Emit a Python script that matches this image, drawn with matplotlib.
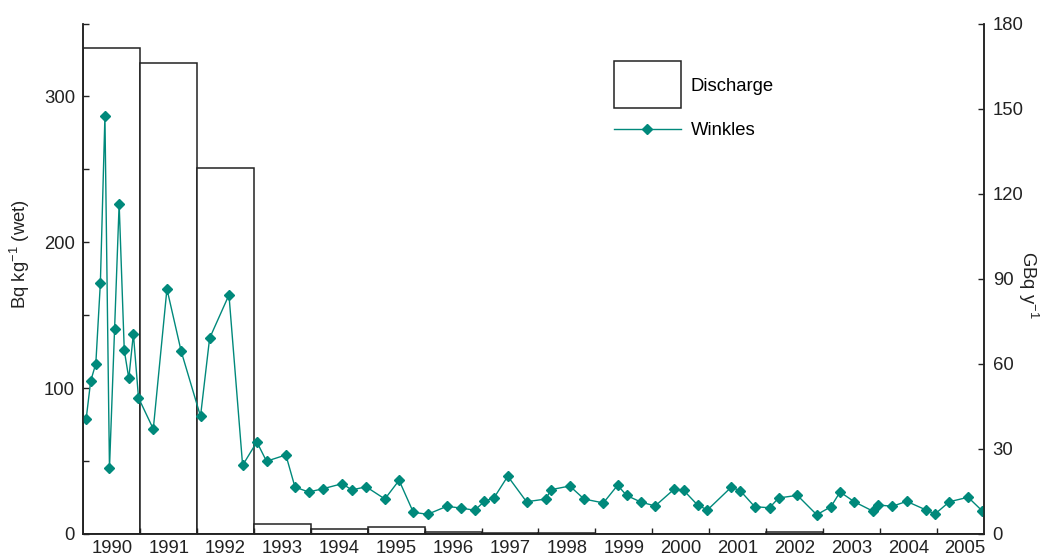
import matplotlib
matplotlib.use("Agg")
import matplotlib.pyplot as plt
from matplotlib.ticker import MultipleLocator, FixedLocator
from matplotlib.patches import Rectangle
from matplotlib.legend_handler import HandlerPatch

plt.rcParams['font.family'] = ['Liberation Sans', 'DejaVu Sans']
plt.rcParams['mathtext.fontset'] = 'custom'
plt.rcParams['mathtext.rm'] = 'Liberation Sans'
plt.rcParams['mathtext.default'] = 'regular'

# ---- data ----
years = list(range(1990, 2006))
discharge = [171.3, 166.2, 128.9, 3.6, 1.8, 2.4, 0.8, 0.5, 0.4, 0, 0, 0, 0.6, 0, 0, 0]  # GBq/y

winkle_dates = [1990.05, 1990.13, 1990.22, 1990.30, 1990.38, 1990.46, 1990.55, 1990.63,
                1990.72, 1990.80, 1990.88, 1990.97,
                1991.23, 1991.47, 1991.72,
                1992.06, 1992.22, 1992.56, 1992.80,
                1993.05, 1993.22, 1993.56, 1993.72, 1993.96,
                1994.22, 1994.55, 1994.72, 1994.97,
                1995.30, 1995.55, 1995.80,
                1996.05, 1996.39, 1996.63, 1996.88,
                1997.05, 1997.22, 1997.46, 1997.79,
                1998.13, 1998.22, 1998.55, 1998.80,
                1999.14, 1999.39, 1999.55, 1999.80,
                2000.05, 2000.38, 2000.55, 2000.80, 2000.97,
                2001.39, 2001.55, 2001.80,
                2002.06, 2002.22, 2002.55, 2002.89,
                2003.14, 2003.30, 2003.55, 2003.88, 2003.97,
                2004.22, 2004.47, 2004.81, 2004.97,
                2005.22, 2005.55, 2005.80]
winkle_values = [78.8, 104.9, 116.8, 172.1, 286.4, 45.0, 140.8, 226.4,
                 125.9, 106.7, 137.3, 93.4,
                 72.0, 168.0, 125.3,
                 80.7, 134.2, 163.9, 47.1,
                 63.1, 49.9, 54.2, 32.2, 28.8,
                 31.1, 34.5, 30.2, 32.4,
                 24.0, 36.8, 14.9,
                 13.5, 19.0, 17.8, 16.3,
                 22.4, 24.9, 39.6, 22.1,
                 24.0, 30.4, 32.9, 24.0,
                 21.3, 33.4, 26.4, 21.9,
                 19.2, 30.6, 30.0, 19.7, 16.5,
                 32.2, 29.5, 18.7,
                 18.0, 24.7, 26.5, 13.2,
                 18.7, 28.8, 22.1, 15.6, 19.9,
                 19.0, 22.4, 16.5, 13.7,
                 22.1, 25.2, 15.8]

teal = '#00897B'
dark = '#222222'
fs = 13.3

fig = plt.figure(figsize=(10.42, 5.57), dpi=100)
ax = fig.add_axes([83.3/1042, 1-534/557, 901/1042, 510.5/557])
ax2 = ax.twinx()

# bars on the right axis (behind)
bars = ax2.bar(years, discharge, width=1.0, align='edge', color='white',
               edgecolor=dark, linewidth=1.1, label='Discharge')
ax2.set_ylim(0, 180)
ax2.yaxis.set_major_locator(MultipleLocator(30))

# line on the left axis (front)
ax.set_zorder(ax2.get_zorder() + 1)
ax.patch.set_visible(False)
line, = ax.plot(winkle_dates, winkle_values, color=teal, lw=1.0, marker='D',
                markersize=4.8, markerfacecolor=teal, markeredgecolor=teal, label='Winkles')
ax.set_ylim(0, 350)
ax.set_xlim(1990, 2005.835)
ax.yaxis.set_major_locator(MultipleLocator(100))
ax.yaxis.set_minor_locator(MultipleLocator(50))

# x ticks: labels at year centres, tick marks at boundaries
ax.xaxis.set_major_locator(FixedLocator([y + 0.5 for y in years]))
ax.set_xticklabels([str(y) for y in years])
ax.xaxis.set_minor_locator(FixedLocator(years[1:]))
ax.tick_params(axis='x', which='major', length=0, pad=4.5, labelsize=fs, colors=dark)
ax.tick_params(axis='x', which='minor', direction='in', length=4, width=1, color=dark)
ax.tick_params(axis='y', which='both', direction='in', length=4, width=1, color=dark,
               labelsize=fs, labelcolor=dark, pad=6.0)
ax2.tick_params(axis='y', which='both', direction='in', length=4, width=1, color=dark,
                labelsize=fs, labelcolor=dark, pad=6.0)

for a in (ax, ax2):
    a.spines['top'].set_visible(False)
    for s in ('left', 'right', 'bottom'):
        a.spines[s].set_color(dark)
        a.spines[s].set_linewidth(1.1)

ax.set_ylabel('Bq kg$^{-1}$ (wet)', fontsize=fs, color=dark, va='center', ha='center')
ax.yaxis.set_label_coords(-0.070, 0.548)
ax2.set_ylabel('GBq y$^{-1}$', fontsize=fs, color=dark, rotation=-90, va='center', ha='center')
ax2.yaxis.set_label_coords(1.0485, 0.488)


def tall_rect(legend, orig_handle, xdescent, ydescent, width, height, fontsize):
    h = 2.5 * fontsize
    cy = 0.36 * fontsize
    return Rectangle(xy=(-xdescent, cy - h / 2), width=width, height=h)


bar_handle = bars.patches[0]
leg = ax.legend([bar_handle, line], ['Discharge', 'Winkles'], loc='upper left',
                bbox_to_anchor=(605/1042, 1-69/557), bbox_transform=fig.transFigure,
                frameon=False, fontsize=fs, borderpad=0, handlelength=3.6,
                handleheight=0.7, labelspacing=1.45, handletextpad=0.55,
                handler_map={bar_handle: HandlerPatch(patch_func=tall_rect)})

fig.savefig('out.png', dpi=100, facecolor='white')
